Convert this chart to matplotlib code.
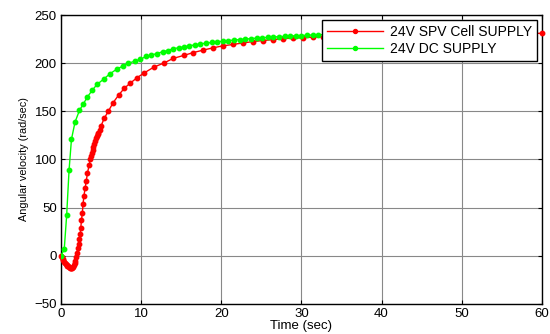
# Angular velocity response for two 24V supplies
import matplotlib
matplotlib.use('Agg')
import matplotlib.pyplot as plt

# time (sec) and angular velocity (rad/sec)
spv_time = [0, 0.1, 0.2, 0.3, 0.4, 0.5, 0.6, 0.7, 0.8, 0.9, 1.0, 1.1, 1.2, 1.3,
            1.4, 1.5, 1.6, 1.7, 1.8, 1.9, 2.0, 2.1, 2.2, 2.3, 2.4, 2.46, 2.55,
            2.65, 2.75, 2.85, 3.0, 3.15, 3.3, 3.5, 3.65, 3.75, 3.85, 3.95, 4.05,
            4.15, 4.25, 4.35, 4.45, 4.55, 4.65, 4.8, 5.0, 5.4, 5.9, 6.5, 7.2,
            7.9, 8.6, 9.5, 10.4, 11.6, 12.8, 14.0, 15.3, 16.5, 17.7, 19.0, 20.2,
            21.5, 22.7, 24.0, 25.2, 26.5, 27.7, 29.0, 30.2, 31.5, 32.7, 35, 38,
            41, 44, 47, 50, 53, 56, 58, 60]
spv_speed = [0, -1.5, -3, -4.5, -6, -7, -8.5, -9.5, -10.5, -11, -11.8, -12.3,
             -12.6, -12.8, -12.5, -11.5, -10, -8, -5, -1, 3, 8, 12, 17, 23, 29,
             37, 44, 54, 62, 70, 78, 86, 94, 100, 104, 107, 110, 113, 116, 119,
             122, 124, 126, 128, 131, 135, 143, 150, 159, 167, 174, 179, 185,
             190, 196, 200, 205, 208, 211, 213.5, 216, 218, 219.5, 221, 222.5,
             223.5, 224.5, 225.5, 226, 226.5, 227, 227.5, 228, 228.5, 229, 229.5,
             230, 230.3, 230.6, 230.8, 231, 231]

dc_time = [0, 0.4, 0.7, 1.0, 1.3, 1.75, 2.3, 2.8, 3.3, 3.9, 4.5, 5.4, 6.1, 7.0,
           7.7, 8.4, 9.2, 9.9, 10.6, 11.25, 12.0, 12.7, 13.3, 14.0, 14.7, 15.4,
           16.0, 16.7, 17.4, 18.1, 18.8, 19.5, 20.2, 20.9, 21.6, 22.3, 23.0,
           23.7, 24.4, 25.1, 25.8, 26.5, 27.2, 27.9, 28.6, 29.3, 30.0, 30.7,
           31.4, 32.1, 35, 40, 45, 50]
dc_speed = [0, 7, 42, 89, 121, 139, 151, 158, 165, 172, 178, 184, 189, 194,
            197, 200, 202, 204, 207, 208.5, 210, 212, 213, 215, 216, 217, 218,
            219, 220, 220.8, 221.5, 222.2, 222.8, 223.4, 224, 224.5, 225, 225.5,
            226, 226.4, 226.8, 227.2, 227.5, 227.8, 228.1, 228.4, 228.7, 229,
            229.3, 229.6, 230, 230.5, 231, 231]

plt.rcParams['font.family'] = ['Liberation Sans', 'DejaVu Sans']

fig = plt.figure(figsize=(5.5, 3.34), dpi=100)
ax = fig.add_axes([0.111, 0.09, 0.874, 0.865])

ax.plot(spv_time, spv_speed, color='#ff0000', marker='o', markersize=3.2,
        linewidth=1, label='24V SPV Cell SUPPLY', clip_on=False, zorder=3)
ax.plot(dc_time, dc_speed, color='#00ff00', marker='o', markersize=3.2,
        linewidth=1, label='24V DC SUPPLY', zorder=3)

ax.set_xlim(0, 60)
ax.set_ylim(-50, 250)
ax.set_xticks(range(0, 61, 10))
ax.set_yticks(range(-50, 251, 50))
ax.grid(True, color='#888888', linewidth=0.8)
ax.tick_params(direction='in', top=True, right=True, labelsize=9.5, length=3, pad=3)
for sp in ax.spines.values():
    sp.set_linewidth(1)

ax.set_xlabel('Time (sec)', fontsize=9.5, labelpad=0)
ax.set_ylabel('Angular velocity (rad/sec)', fontsize=7.8, labelpad=4)

leg = ax.legend(loc='upper right', bbox_to_anchor=(0.9896, 0.9827), fontsize=10,
                fancybox=False, framealpha=1, edgecolor='black',
                borderaxespad=0, borderpad=0.35, handlelength=4.0,
                handletextpad=0.5, labelspacing=0.2, markerscale=0.9)
leg.get_frame().set_linewidth(1)

fig.savefig('out.png', dpi=100)
